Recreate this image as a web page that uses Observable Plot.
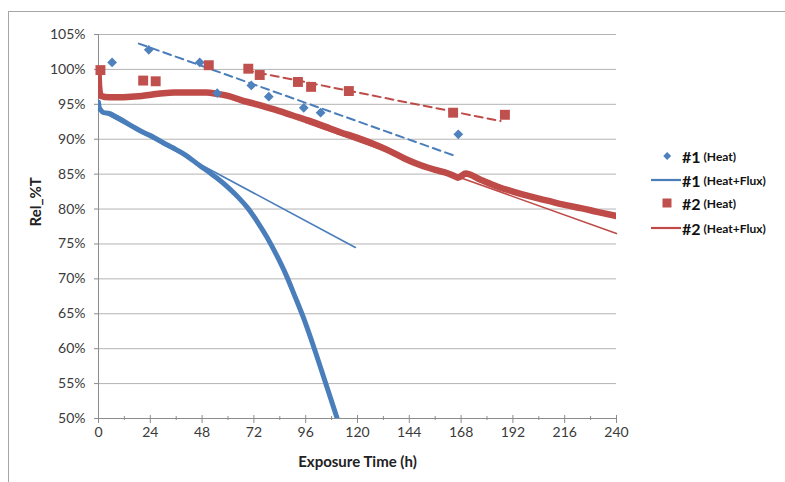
<!DOCTYPE html>
<html><head><meta charset="utf-8">
<script src="https://cdn.jsdelivr.net/npm/d3@7"></script>
<script src="https://cdn.jsdelivr.net/npm/@observablehq/plot@0.6"></script>
<style>
body{margin:0;background:#fff;font-family:Lato,"Liberation Sans",sans-serif;}
#wrap{position:relative;width:785px;height:482px;overflow:hidden;background:#fff;}
#border{position:absolute;left:8px;top:11px;width:900px;height:600px;border-left:1px solid #a6a6a6;border-top:1px solid #a6a6a6;}
#chart{position:absolute;left:0;top:0;}
.item{position:absolute;left:651px;height:20px;display:flex;align-items:center;white-space:nowrap;color:#111;font-weight:bold;}
.item .big{font-size:16px;margin-left:1px;}
.item .small{font-size:12px;margin-left:3px;}
</style></head><body>
<div id="wrap"><div id="border"></div><div id="chart"></div><div id="legend"></div></div>
<script>
// ---- data ----
const heat1X = [6.3, 23.3, 46.9, 55.0, 70.8, 78.9, 95.1, 102.9, 166.7];
const heat1Y = [101.0, 102.8, 101.0, 96.6, 97.7, 96.1, 94.5, 93.8, 90.7];

const heat2X = [0.9, 20.7, 26.5, 51.1, 69.4, 74.7, 92.4, 98.5, 116.0, 164.3, 188.3];
const heat2Y = [99.9, 98.4, 98.3, 100.6, 100.1, 99.2, 98.2, 97.5, 96.9, 93.8, 93.5];

const flux1X = [0, 0.3, 1, 2.4, 5, 7, 10, 16, 20, 25.5, 30, 35, 40, 47, 52, 55, 60, 65, 69, 74, 78, 83, 87, 91, 95, 100, 105, 110.6];
const flux1Y = [95.3, 94.6, 94.2, 93.8, 93.7, 93.4, 92.9, 91.8, 91.1, 90.3, 89.5, 88.7, 87.8, 86.2, 85.1, 84.4, 83.1, 81.6, 80.2, 78.0, 76.0, 73.1, 70.5, 67.5, 64.4, 60.0, 55.3, 50.0];

const flux2X = [0, 0.3, 1, 5, 10, 15, 20, 25, 30, 35, 40, 45, 50, 55, 60, 66, 72, 81, 90, 97, 105, 112, 120, 130, 135, 142, 149, 156, 162, 165, 166.5, 168, 170, 177, 185, 192, 200, 208, 216, 224, 231, 240];
const flux2Y = [99.8, 97.5, 96.2, 96.0, 96.0, 96.1, 96.2, 96.4, 96.6, 96.7, 96.7, 96.7, 96.7, 96.5, 96.2, 95.6, 95.1, 94.3, 93.4, 92.7, 91.8, 91.0, 90.2, 89.0, 88.3, 87.2, 86.3, 85.6, 85.1, 84.7, 84.5, 84.7, 85.1, 84.2, 83.2, 82.5, 81.8, 81.2, 80.6, 80.1, 79.6, 79.0];

// trend lines (end points)
const trendHeat1X = [18.7, 166.2], trendHeat1Y = [103.7, 87.5];
const trendHeat2X = [68, 186.3],   trendHeat2Y = [99.9, 92.6];
const trendFlux1X = [0, 119],      trendFlux1Y = [94.2, 74.5];
const trendFlux2X = [96, 240],     trendFlux2Y = [92.4, 76.5];

const xMajor = [0, 24, 48, 72, 96, 120, 144, 168, 192, 216, 240];
const xMinor = [12, 36, 60, 84, 108, 132, 156, 180, 204, 228];
const yTicks = [50, 55, 60, 65, 70, 75, 80, 85, 90, 95, 100, 105];

const legendItems = [
  {num: "#1", desc: "(Heat)", kind: "diamond", color: "#4F81BD"},
  {num: "#1", desc: "(Heat+Flux)", kind: "line", color: "#4A7EBB"},
  {num: "#2", desc: "(Heat)", kind: "square", color: "#C0504D"},
  {num: "#2", desc: "(Heat+Flux)", kind: "line", color: "#BE4B48"}
];

const blue = "#4A7EBB", red = "#BE4B48";
const zipXY = (xs, ys) => xs.map((x, i) => ({x, y: ys[i]}));

const gridColor = "#b4b4b4", axisColor = "#8c8c8c", textColor = "#3a3a3a";

const chart = Plot.plot({
  width: 785, height: 482,
  marginLeft: 98, marginRight: 169, marginTop: 34, marginBottom: 64,
  style: {fontFamily: "Lato, 'Liberation Sans', sans-serif", fontSize: "14px", background: "transparent"},
  x: {domain: [0, 240]},
  y: {domain: [50, 105]},
  marks: [
    Plot.gridY(yTicks, {stroke: gridColor, strokeOpacity: 1}),
    Plot.axisY({ticks: yTicks, tickSize: 4, tickPadding: 9, tickFormat: d => d + "%", label: null, stroke: axisColor, fill: textColor}),
    Plot.ruleX([0], {stroke: axisColor}),
    Plot.ruleY([50], {stroke: axisColor}),
    Plot.axisX({ticks: xMajor, tickSize: 8, dy: -3, tickPadding: 4, tickFormat: d => String(d), label: null, stroke: axisColor, fill: textColor}),
    Plot.axisX({ticks: xMinor, tickSize: 4, dy: -2, tickFormat: () => "", label: null, stroke: axisColor}),
    Plot.line(zipXY(flux1X, flux1Y), {x: "x", y: "y", stroke: blue, strokeWidth: 5, curve: "monotone-x", clip: true}),
    Plot.line(zipXY(flux2X, flux2Y), {x: "x", y: "y", stroke: red, strokeWidth: 6.5, curve: "monotone-x", clip: true}),
    Plot.line(zipXY(trendFlux1X, trendFlux1Y), {x: "x", y: "y", stroke: blue, strokeWidth: 1.6}),
    Plot.line(zipXY(trendFlux2X, trendFlux2Y), {x: "x", y: "y", stroke: red, strokeWidth: 1.6}),
    Plot.line(zipXY(trendHeat1X, trendHeat1Y), {x: "x", y: "y", stroke: blue, strokeWidth: 2, strokeDasharray: "8,5"}),
    Plot.line(zipXY(trendHeat2X, trendHeat2Y), {x: "x", y: "y", stroke: red, strokeWidth: 2, strokeDasharray: "8,5"}),
    Plot.dot(zipXY(heat1X, heat1Y), {x: "x", y: "y", symbol: "square", rotate: 45, r: 3.9, fill: "#4F81BD", stroke: "none"}),
    Plot.dot(zipXY(heat2X, heat2Y), {x: "x", y: "y", symbol: "square", r: 5.6, fill: "#C0504D", stroke: "none"}),
    Plot.text(["Rel_%T"], {frameAnchor: "left", dx: -62, rotate: -90, fontWeight: "bold", fontSize: 15, fill: "#222"}),
    Plot.text(["Exposure Time (h)"], {frameAnchor: "bottom", dy: 48, fontWeight: "bold", fontSize: 15, fill: "#222"})
  ]
});
document.getElementById("chart").appendChild(chart);

// legend
const legend = document.getElementById("legend");
const centers = [156, 180, 203, 228];
legendItems.forEach((it, i) => {
  const div = document.createElement("div");
  div.className = "item";
  div.style.top = (centers[i] - 10) + "px";
  let sw;
  if (it.kind === "line") sw = `<svg width="30" height="20"><line x1="0" y1="10" x2="30" y2="10" stroke="${it.color}" stroke-width="2.2"/></svg>`;
  else if (it.kind === "diamond") sw = `<svg width="30" height="20"><rect x="13.4" y="7.2" width="5.6" height="5.6" fill="${it.color}" transform="rotate(45 16.2 10)"/></svg>`;
  else sw = `<svg width="30" height="20"><rect x="11.5" y="5.5" width="9" height="9" fill="${it.color}"/></svg>`;
  div.innerHTML = sw + `<span class="big">${it.num}</span><span class="small">${it.desc}</span>`;
  legend.appendChild(div);
});
</script>
</body></html>
